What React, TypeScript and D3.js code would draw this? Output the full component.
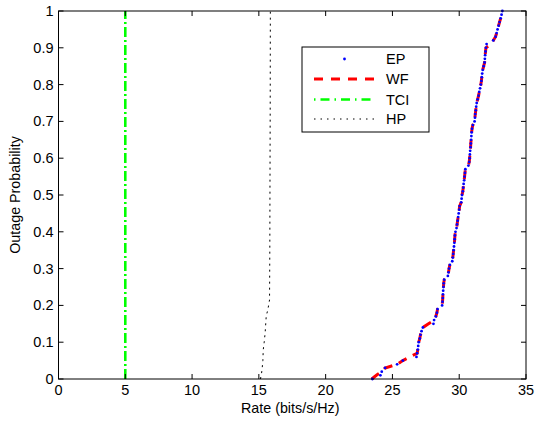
import React from "react";
import * as d3 from "d3";

const W = 542;
const H = 422;
const M = { left: 58.5, right: 526, top: 11, bottom: 379 };

const xTicks = [0, 5, 10, 15, 20, 25, 30, 35];
const yTicks = [0, 0.1, 0.2, 0.3, 0.4, 0.5, 0.6, 0.7, 0.8, 0.9, 1];
const yTickLabels = ["0", "0.1", "0.2", "0.3", "0.4", "0.5", "0.6", "0.7", "0.8", "0.9", "1"];

// empirical CDF probability levels
const cdfProb = [
  0.0, 0.01, 0.02, 0.03, 0.04, 0.05, 0.06, 0.07, 0.08, 0.09,
  0.1, 0.11, 0.12, 0.13, 0.14, 0.15, 0.16, 0.17, 0.18, 0.19,
  0.2, 0.21, 0.22, 0.23, 0.24, 0.25, 0.26, 0.27, 0.28, 0.29,
  0.3, 0.31, 0.32, 0.33, 0.34, 0.35, 0.36, 0.37, 0.38, 0.39,
  0.4, 0.41, 0.42, 0.43, 0.44, 0.45, 0.46, 0.47, 0.48, 0.49,
  0.5, 0.51, 0.52, 0.53, 0.54, 0.55, 0.56, 0.57, 0.58, 0.59,
  0.6, 0.61, 0.62, 0.63, 0.64, 0.65, 0.66, 0.67, 0.68, 0.69,
  0.7, 0.71, 0.72, 0.73, 0.74, 0.75, 0.76, 0.77, 0.78, 0.79,
  0.8, 0.81, 0.82, 0.83, 0.84, 0.85, 0.86, 0.87, 0.88, 0.89,
  0.9, 0.91, 0.92, 0.93, 0.94, 0.95, 0.96, 0.97, 0.98, 0.99, 1.0,
];

// EP rates (blue dots)
const epRate = [
  23.5, 24.1, 24.2, 24.45, 25.35, 25.78, 26.8, 26.85, 26.9, 26.93,
  26.97, 27.05, 27.1, 27.18, 27.28, 28.07, 28.12, 28.25, 28.33, 28.38,
  28.72, 28.75, 28.77, 28.78, 28.8, 28.82, 28.84, 28.88, 29.15, 29.2,
  29.24, 29.3, 29.48, 29.52, 29.55, 29.58, 29.61, 29.64, 29.66, 29.68,
  29.72, 29.8, 29.84, 29.88, 29.92, 29.96, 30.0, 30.03, 30.15, 30.18,
  30.21, 30.27, 30.3, 30.33, 30.37, 30.4, 30.43, 30.46, 30.69, 30.75,
  30.78, 30.8, 30.82, 30.85, 30.87, 30.89, 30.91, 30.93, 30.96, 31.02,
  31.15, 31.18, 31.2, 31.24, 31.27, 31.31, 31.38, 31.45, 31.5, 31.56,
  31.62, 31.66, 31.69, 31.72, 31.76, 31.83, 31.9, 31.92, 31.94, 31.97,
  32.0, 32.05, 32.55, 32.72, 32.8, 32.87, 32.95, 33.02, 33.1, 33.17, 33.23,
];

// WF rates (red dashed line)
const wfRate = [
  23.45, 23.8, 24.2, 24.45, 25.35, 25.78, 26.3, 26.85, 26.9, 26.93,
  26.97, 27.05, 27.1, 27.18, 27.28, 27.7, 28.12, 28.25, 28.33, 28.38,
  28.72, 28.75, 28.77, 28.78, 28.8, 28.82, 28.84, 28.88, 29.15, 29.2,
  29.24, 29.3, 29.48, 29.52, 29.55, 29.58, 29.61, 29.64, 29.66, 29.68,
  29.72, 29.8, 29.84, 29.88, 29.92, 29.96, 30.0, 30.03, 30.15, 30.18,
  30.21, 30.27, 30.3, 30.33, 30.37, 30.4, 30.43, 30.46, 30.69, 30.75,
  30.78, 30.8, 30.82, 30.85, 30.87, 30.89, 30.91, 30.93, 30.96, 31.02,
  31.15, 31.18, 31.2, 31.24, 31.27, 31.31, 31.38, 31.45, 31.5, 31.56,
  31.62, 31.66, 31.69, 31.72, 31.76, 31.83, 31.9, 31.92, 31.94, 31.97,
  32.0, 32.4, 32.55, 32.72, 32.8, 32.87, 32.95, 33.02, 33.1, 33.17, 33.23,
];

// TCI constant rate
const tciRate = [5, 5];
const tciProb = [0, 1];

// HP curve
const hpRate = [15.12, 15.2, 15.25, 15.3, 15.33, 15.4, 15.47, 15.55, 15.68, 15.8, 15.82, 15.83, 15.85, 15.86];
const hpProb = [0.0, 0.015, 0.03, 0.05, 0.08, 0.1, 0.125, 0.17, 0.19, 0.215, 0.35, 0.5, 0.75, 1.0];

const legendLabels = ["EP", "WF", "TCI", "HP"];

const FONT = "'Liberation Sans', Arial, sans-serif";

export default function App() {
  const x = d3.scaleLinear().domain([0, 35]).range([M.left, M.right]);
  const y = d3.scaleLinear().domain([0, 1]).range([M.bottom, M.top]);

  const line = d3
    .line<[number, number]>()
    .x((d) => x(d[0]))
    .y((d) => y(d[1]));

  const epPts: [number, number][] = epRate.map((r, i) => [r, cdfProb[i]]);
  const wfPts: [number, number][] = wfRate.map((r, i) => [r, cdfProb[i]]);
  const tciPts: [number, number][] = tciRate.map((r, i) => [r, tciProb[i]]);
  const hpPts: [number, number][] = hpRate.map((r, i) => [r, hpProb[i]]);

  const tickLen = 5;
  const lg = { x: 302, y: 47, w: 127, h: 85 };
  const rowY = [59, 79, 99.5, 119];
  const sx0 = 314;
  const sx1 = 375;

  return (
    <div style={{ position: "absolute", left: 0, top: 0 }}>
      <svg width={W} height={H} style={{ display: "block", background: "#fff" }}>
        <rect x={0} y={0} width={W} height={H} fill="#fff" />
        <defs>
          <clipPath id="plotclip">
            <rect x={M.left} y={M.top - 2} width={M.right - M.left} height={M.bottom - M.top + 4} />
          </clipPath>
        </defs>

        <g clipPath="url(#plotclip)">
          <path d={line(tciPts) || ""} fill="none" stroke="#00ff00" strokeWidth={2.6} strokeDasharray="10,3,2,3" />
          <path d={line(hpPts) || ""} fill="none" stroke="#000" strokeWidth={1} strokeDasharray="2,4" />
          <path d={line(wfPts) || ""} fill="none" stroke="#ff0000" strokeWidth={3} strokeDasharray="9,7" />
          {epPts.map((d, i) => (
            <circle key={i} cx={x(d[0])} cy={y(d[1])} r={1.4} fill="#0000ff" />
          ))}
        </g>

        {/* axes box */}
        <rect x={M.left} y={M.top} width={M.right - M.left} height={M.bottom - M.top} fill="none" stroke="#000" strokeWidth={1} />

        {xTicks.map((t) => (
          <g key={"xt" + t}>
            <line x1={x(t)} x2={x(t)} y1={M.bottom} y2={M.bottom - tickLen} stroke="#000" />
            <line x1={x(t)} x2={x(t)} y1={M.top} y2={M.top + tickLen} stroke="#000" />
            <text x={x(t)} y={M.bottom + 16} fontSize={14.5} fontFamily={FONT} textAnchor="middle">
              {t}
            </text>
          </g>
        ))}
        {yTicks.map((t, i) => (
          <g key={"yt" + t}>
            <line x1={M.left} x2={M.left + tickLen} y1={y(t)} y2={y(t)} stroke="#000" />
            <line x1={M.right} x2={M.right - tickLen} y1={y(t)} y2={y(t)} stroke="#000" />
            <text x={M.left - 5} y={y(t) + 5} fontSize={14.5} fontFamily={FONT} textAnchor="end">
              {yTickLabels[i]}
            </text>
          </g>
        ))}

        <text x={(M.left + M.right) / 2 - 2} y={413} fontSize={14.3} fontFamily={FONT} textAnchor="middle">
          Rate (bits/s/Hz)
        </text>
        <text
          transform={`translate(20, ${(M.top + M.bottom) / 2}) rotate(-90)`}
          fontSize={14.3}
          fontFamily={FONT}
          textAnchor="middle"
        >
          Outage Probability
        </text>

        {/* legend */}
        <rect x={lg.x} y={lg.y} width={lg.w} height={lg.h} fill="#fff" stroke="#000" strokeWidth={1} />
        <circle cx={(sx0 + sx1) / 2} cy={rowY[0]} r={1.4} fill="#0000ff" />
        <line x1={sx0} x2={sx1} y1={rowY[1]} y2={rowY[1]} stroke="#ff0000" strokeWidth={3} strokeDasharray="9,8" />
        <line x1={sx0} x2={sx1} y1={rowY[2]} y2={rowY[2]} stroke="#00ff00" strokeWidth={2.6} strokeDasharray="1.5,5,9,5" />
        <line x1={sx0} x2={sx1} y1={rowY[3]} y2={rowY[3]} stroke="#000" strokeWidth={1} strokeDasharray="1.5,5" />
        {legendLabels.map((l, i) => (
          <text key={l} x={386} y={rowY[i] + 5} fontSize={14.5} fontFamily={FONT}>
            {l}
          </text>
        ))}
      </svg>
    </div>
  );
}
